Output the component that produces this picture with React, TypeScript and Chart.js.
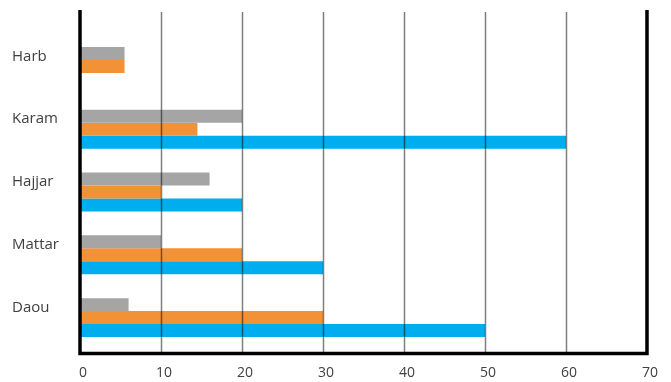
import React, { useEffect, useRef } from "react";
import { Chart, registerables } from "chart.js";

Chart.register(...registerables);

const categories = ["Harb", "Karam", "Hajjar", "Mattar", "Daou"];
const grayValues = [5.5, 20, 16, 10, 6];
const orangeValues = [5.5, 14.5, 10, 20, 30];
const blueValues: (number | null)[] = [null, 60, 20, 30, 50];
const xMin = 0;
const xMax = 70;
const xStep = 10;

const framePlugin = {
  id: "frame",
  afterDatasetsDraw(chart: any) {
    const { ctx, chartArea, scales } = chart;
    const x = scales.x;
    const top = chartArea.top - 25;
    const bottom = chartArea.bottom + 4.5;
    ctx.save();
    ctx.strokeStyle = "rgba(0,0,0,0.5)";
    ctx.lineWidth = 1.5;
    x.ticks.forEach((t: any) => {
      if (t.value > xMin && t.value < xMax) {
        const px = Math.round(x.getPixelForValue(t.value)) + 0.5;
        ctx.beginPath();
        ctx.moveTo(px, top + 2);
        ctx.lineTo(px, bottom);
        ctx.stroke();
      }
    });
    ctx.strokeStyle = "#000";
    ctx.lineWidth = 3.5;
    ctx.lineJoin = "miter";
    ctx.beginPath();
    ctx.moveTo(x.left, top);
    ctx.lineTo(x.left, bottom);
    ctx.lineTo(x.right, bottom);
    ctx.lineTo(x.right, top);
    ctx.stroke();
    ctx.restore();
  },
};

function BarChart() {
  const ref = useRef<HTMLCanvasElement | null>(null);
  useEffect(() => {
    if (!ref.current) return;
    const chart = new Chart(ref.current, {
      type: "bar",
      data: {
        labels: categories,
        datasets: [
          { label: "Gray", data: grayValues, backgroundColor: "#A5A5A5" },
          { label: "Orange", data: orangeValues, backgroundColor: "#F39136" },
          { label: "Blue", data: blueValues, backgroundColor: "#00ADEE" },
        ],
      },
      options: {
        indexAxis: "y",
        animation: false,
        responsive: false,
        maintainAspectRatio: false,
        layout: { padding: { left: 12, right: 21, top: 35, bottom: 0 } },
        datasets: {
          bar: { categoryPercentage: 0.62, barPercentage: 1, borderWidth: 0 },
        },
        plugins: {
          legend: { display: false },
          tooltip: { enabled: false },
        },
        scales: {
          x: {
            min: xMin,
            max: xMax,
            ticks: {
              stepSize: xStep,
              color: "#404040",
              font: { family: "Open Sans", size: 14 },
              padding: 16,
              labelOffset: 3,
            },
            grid: { display: false, drawTicks: false },
            border: { display: false },
            afterFit: (s: any) => {
              s.height = 33;
            },
          },
          y: {
            ticks: {
              color: "#404040",
              font: { family: "Open Sans", size: 15 },
              crossAlign: "far",
              labelOffset: -10,
            },
            grid: { display: false, drawTicks: false },
            border: { display: false },
            afterFit: (s: any) => {
              s.width = 68;
            },
          },
        },
      },
      plugins: [framePlugin],
    } as any);
    return () => chart.destroy();
  }, []);
  return <canvas ref={ref} width={671} height={382} />;
}

export default function App() {
  return (
    <div style={{ position: "absolute", left: 0, top: 0, width: 671, height: 382, background: "#fff" }}>
      <BarChart />
    </div>
  );
}
